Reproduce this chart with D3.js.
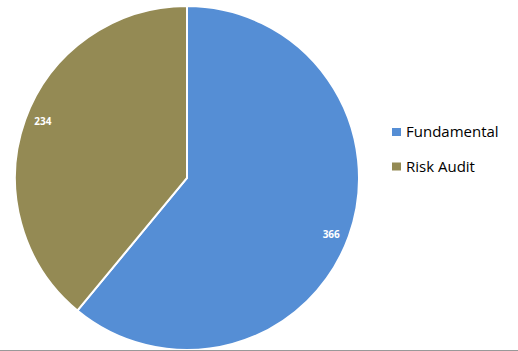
<!DOCTYPE html>
<html>
<head>
<meta charset="utf-8">
<script src="https://cdn.jsdelivr.net/npm/d3@7"></script>
<style>
  body { margin: 0; background: #fff; }
  svg { display: block; }
</style>
</head>
<body>
<svg width="518" height="351"></svg>
<script>
// DATA
const categories = ["Fundamental", "Risk Audit"];
const values = [366, 234];
const colors = ["#558ED5", "#948A54"];

const svg = d3.select("svg");
const width = +svg.attr("width");
const height = +svg.attr("height");

const cx = 187, cy = 178, radius = 172;

const pie = d3.pie().sort(null).value(d => d.value);
const arcs = pie(categories.map((c, i) => ({ name: c, value: values[i] })));

const arc = d3.arc().innerRadius(0).outerRadius(radius);

const g = svg.append("g").attr("transform", `translate(${cx},${cy})`);

g.selectAll("path")
  .data(arcs)
  .enter()
  .append("path")
  .attr("d", arc)
  .attr("fill", (d, i) => colors[i])
  .attr("stroke", "#fff")
  .attr("stroke-width", 2);

// labels sit near the rim, nudged a little clockwise like the original
const labelR = radius * 0.9;
const labelShift = 1.5 * Math.PI / 180;
g.selectAll("text")
  .data(arcs)
  .enter()
  .append("text")
  .attr("transform", d => {
    const a = (d.startAngle + d.endAngle) / 2 + labelShift;
    return `translate(${labelR * Math.sin(a)},${-labelR * Math.cos(a)})`;
  })
  .attr("text-anchor", "middle")
  .attr("dy", "0.35em")
  .attr("fill", "#fff")
  .attr("font-family", "Open Sans, sans-serif")
  .attr("font-weight", "bold")
  .attr("font-size", 10)
  .text(d => d.data.value);

// legend
const legend = svg.append("g").attr("transform", "translate(392,132)");
const item = legend.selectAll("g")
  .data(categories)
  .enter()
  .append("g")
  .attr("transform", (d, i) => `translate(0,${i * 34.5})`);

item.append("rect")
  .attr("x", 0)
  .attr("y", -4)
  .attr("width", 9)
  .attr("height", 8)
  .attr("fill", (d, i) => colors[i]);

item.append("text")
  .attr("x", 14)
  .attr("dy", "0.35em")
  .attr("font-family", "Open Sans, sans-serif")
  .attr("font-size", 15)
  .attr("fill", "#000")
  .text(d => d);

// bottom border
svg.append("line")
  .attr("x1", 0).attr("x2", width)
  .attr("y1", height - 0.5).attr("y2", height - 0.5)
  .attr("stroke", "#999")
  .attr("stroke-width", 1);
</script>
</body>
</html>
